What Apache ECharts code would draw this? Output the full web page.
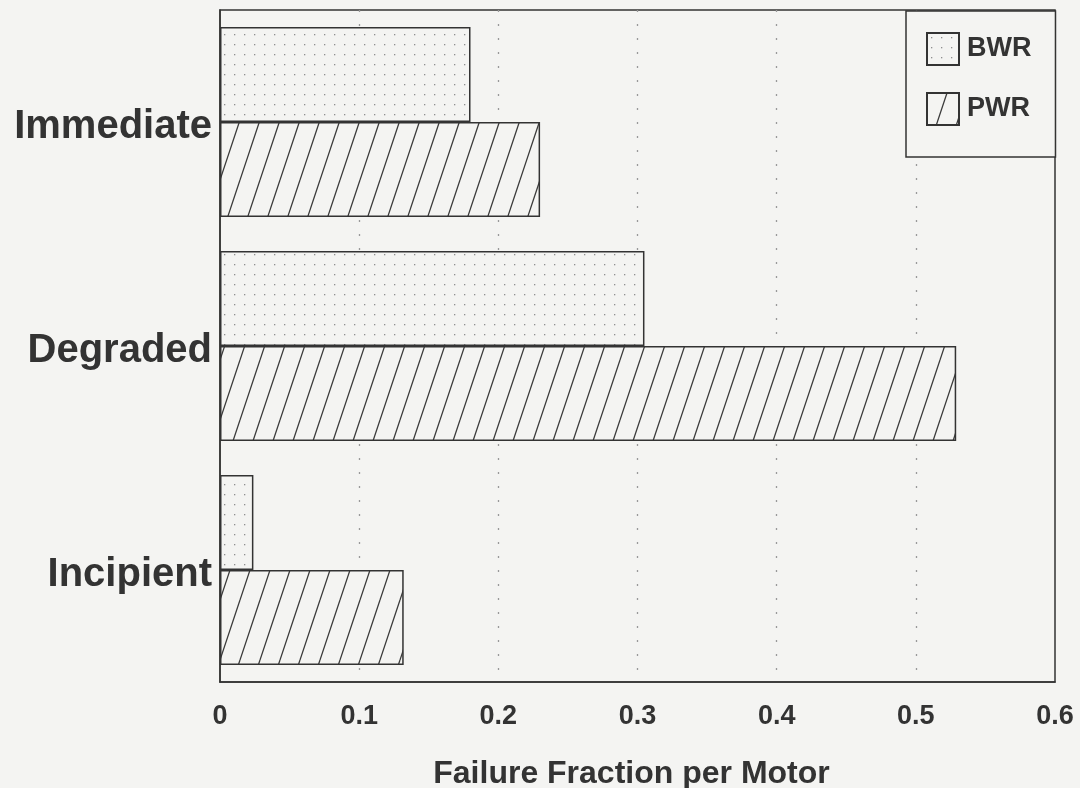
<!DOCTYPE html>
<html>
<head>
<meta charset="utf-8">
<script src="https://cdn.jsdelivr.net/npm/echarts@6/dist/echarts.min.js"></script>
<style>
html,body{margin:0;padding:0;background:#f4f4f2;}
#chart{width:1080px;height:788px;}
</style>
</head>
<body>
<div id="chart"></div>
<script>
// ---- data ----
var categories = ['Incipient', 'Degraded', 'Immediate'];
var bwrValues = [0.024, 0.305, 0.180];
var pwrValues = [0.132, 0.529, 0.230];
var xTicks = [0, 0.1, 0.2, 0.3, 0.4, 0.5, 0.6];
var xAxisTitle = 'Failure Fraction per Motor';

// ---- patterns ----
function dotPattern() {
  var c = document.createElement('canvas');
  c.width = 10; c.height = 10;
  var g = c.getContext('2d');
  g.fillStyle = '#f4f4f2';
  g.fillRect(0, 0, 10, 10);
  g.fillStyle = '#8f8f8f';
  g.fillRect(4, 4, 1.3, 1.3);
  return c;
}
function hatchPattern() {
  var w = 20, h = 60;
  var c = document.createElement('canvas');
  c.width = w; c.height = h;
  var g = c.getContext('2d');
  g.fillStyle = '#f4f4f2';
  g.fillRect(0, 0, w, h);
  g.strokeStyle = '#3a3a3a';
  g.lineWidth = 1.3;
  for (var k = -1; k <= 1; k++) {
    g.beginPath();
    g.moveTo(k * w, h);
    g.lineTo(k * w + w, 0);
    g.stroke();
  }
  return c;
}

var chart = echarts.init(document.getElementById('chart'));
var font = '"Liberation Sans", Arial, Helvetica, sans-serif';

chart.setOption({
  backgroundColor: '#f4f4f2',
  animation: false,
  grid: {
    left: 220, right: 25, top: 10, bottom: 106,
    outerBoundsMode: 'none', containLabel: false,
    show: true, borderColor: '#333', borderWidth: 1.5
  },
  legend: {
    data: ['BWR', 'PWR'],
    orient: 'vertical',
    left: 906, top: 11,
    padding: [21, 24, 31, 20],
    icon: 'rect',
    itemWidth: 32, itemHeight: 32, itemGap: 26,
    borderColor: '#333', borderWidth: 1.5,
    backgroundColor: '#f4f4f2',
    textStyle: { fontFamily: font, fontWeight: 'bold', fontSize: 27, color: '#333', padding: [0, 0, 0, 3] }
  },
  xAxis: {
    type: 'value',
    min: xTicks[0], max: xTicks[xTicks.length - 1], interval: 0.1,
    name: xAxisTitle,
    nameLocation: 'middle',
    nameGap: 76,
    nameTextStyle: { fontFamily: font, fontWeight: 'bold', fontSize: 32, color: '#333', verticalAlign: 'top', padding: [0, 12, 0, 0] },
    axisLine: { show: true, lineStyle: { color: '#333', width: 1.5 } },
    axisTick: { show: false },
    axisLabel: { fontFamily: font, fontWeight: 'bold', fontSize: 27, color: '#333', margin: 21,
      formatter: function (v) { return String(Math.round(v * 10) / 10); } },
    splitLine: { show: true, showMinLine: false, showMaxLine: false, lineStyle: { color: '#999', type: [2, 12], width: 1.3 } }
  },
  yAxis: {
    type: 'category',
    data: categories,
    axisLine: { show: true, lineStyle: { color: '#333', width: 1.5 } },
    axisTick: { show: false },
    axisLabel: {
      margin: 8,
      formatter: function (v) { return '{c|' + v + '}'; },
      rich: { c: { fontFamily: font, fontWeight: 'bold', fontSize: 40, color: '#333', padding: [10, 0, 0, 0] } }
    },
    splitLine: { show: false }
  },
  series: [
    {
      name: 'BWR', type: 'bar', data: bwrValues,
      barWidth: 95, barGap: '0%',
      itemStyle: { color: { image: dotPattern(), repeat: 'repeat' }, borderColor: '#333', borderWidth: 1.5 }
    },
    {
      name: 'PWR', type: 'bar', data: pwrValues,
      barWidth: 95, barGap: '0%',
      itemStyle: { color: { image: hatchPattern(), repeat: 'repeat' }, borderColor: '#333', borderWidth: 1.5 }
    }
  ]
});
</script>
</body>
</html>
